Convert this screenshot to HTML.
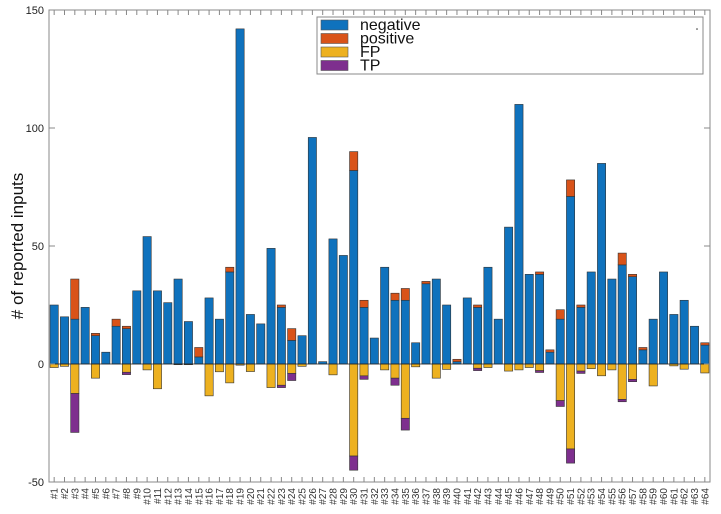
<!DOCTYPE html>
<html><head><meta charset="utf-8"><style>
body{margin:0;background:#fff;}
svg{display:block;font-family:"Liberation Sans",sans-serif;}
</style></head><body>
<svg id="chart" width="721" height="514"></svg>
<script>
const categories = Array.from({length:64},(_,i)=>'#'+(i+1));
const negative = [25,20,19,24,12,5,16,15,31,54,31,26,36,18,3,28,19,39,142,21,17,49,24,10,12,96,1,53,46,82,24,11,41,27,27,9,34,36,25,1,28,24,41,19,58,110,38,38,5,19,71,24,39,85,36,42,37,6,19,39,21,27,16,8];
const positive = [0,0,17,0,1,0,3,1,0,0,0,0,0,0,4,0,0,2,0,0,0,0,1,5,0,0,0,0,0,8,3,0,0,3,5,0,1,0,0,1,0,1,0,0,0,0,0,1,1,4,7,1,0,0,0,5,1,1,0,0,0,0,0,1];
const fp = [1.5,1,12.5,0,6,0,0,3.5,0,2.5,10.5,0,0.3,0.3,0,13.5,3.3,8,0.5,3.2,0,10,9,4,1,0,0,4.6,0,39,5,0,2.5,6,23,1.2,0,6,2.3,0,0,1.8,1.5,0,3,2.5,1.5,2.8,0,15.5,36,3,2,5,2.5,15,6.5,0,9.3,0,0.8,2.2,0,3.8];
const tp = [0,0,16.5,0,0,0,0,1,0,0,0,0,0,0,0,0,0,0,0,0,0,0,1,3,0,0,0,0,0,6,1.5,0,0,3,5,0,0,0,0,0,0,1,0,0,0,0,0,0.8,0,2.5,6,1,0,0,0,1,1,0,0,0,0,0,0,0];
const yTicks = [150,100,50,0,-50];
const seriesNames = ['negative','positive','FP','TP'];
const colors = ['#0f72bd','#d95319','#edb120','#7e2f8e'];

const svg = document.getElementById('chart');
const NS='http://www.w3.org/2000/svg';
const L=49,R=710,T=10,B=482,ymin=-50,ymax=150;
const y = v => B-(v-ymin)/(ymax-ymin)*(B-T);
const step=(R-L)/categories.length;
const xc = i => L+step*(i+0.5);
const bw = step*0.8;
function mk(tag,attrs,parent){const e=document.createElementNS(NS,tag);for(const k in attrs)e.setAttribute(k,attrs[k]);(parent||svg).appendChild(e);return e;}

const gBars=mk('g',{});


categories.forEach((c,i)=>{
  const segs=[[0,negative[i],0],[negative[i],negative[i]+positive[i],1],[-fp[i],0,2],[-fp[i]-tp[i],-fp[i],3]];
  segs.forEach(([a,b,s])=>{
    if(b-a<=0) return;
    const r=mk('rect',{x:xc(i)-bw/2,y:y(b),width:bw,height:y(a)-y(b),fill:colors[s],stroke:'#333','stroke-width':0.6},gBars);
    
    
  });
});
mk('line',{x1:L,x2:R,y1:y(0),y2:y(0),stroke:'#222','stroke-width':0.8});
const box=mk('rect',{x:L,y:T,width:R-L,height:B-T,fill:'none',stroke:'#888','stroke-width':1});


yTicks.forEach(v=>{
  mk('line',{x1:L,x2:L+6,y1:y(v),y2:y(v),stroke:'#888'});
  mk('line',{x1:R,x2:R-6,y1:y(v),y2:y(v),stroke:'#888'});
  const t=mk('text',{x:L-5,y:y(v)+4,'text-anchor':'end','font-size':11,fill:'#222'});
  t.textContent=v;
  
  
});
categories.forEach((c,i)=>{
  mk('line',{x1:xc(i),x2:xc(i),y1:B,y2:B-5,stroke:'#888'});
  mk('line',{x1:xc(i),x2:xc(i),y1:T,y2:T+5,stroke:'#888'});
  const t=mk('text',{x:0,y:0,transform:`translate(${xc(i)+3.5},${B+6}) rotate(-90)`,'text-anchor':'end','font-size':10,fill:'#333'});
  t.textContent=c;
  
  
});
const yt=mk('text',{x:0,y:0,transform:'translate(23,246) rotate(-90)','text-anchor':'middle','font-size':17,fill:'#111'});
yt.textContent='# of reported inputs';


const lg=mk('g',{});


mk('rect',{x:317,y:17,width:386,height:57,fill:'#fff',stroke:'#888'},lg);
seriesNames.forEach((n,k)=>{
  const e=mk('g',{},lg);
  
  
  mk('rect',{x:321,y:20+k*13.5,width:27,height:10,fill:colors[k],stroke:'#555','stroke-width':0.6},e);
  const t=mk('text',{x:360,y:30+k*13.5,'font-size':16,fill:'#111'},e);
  t.textContent=n;
});
mk('circle',{cx:697,cy:29,r:0.8,fill:'#333'});
</script>
</body></html>
